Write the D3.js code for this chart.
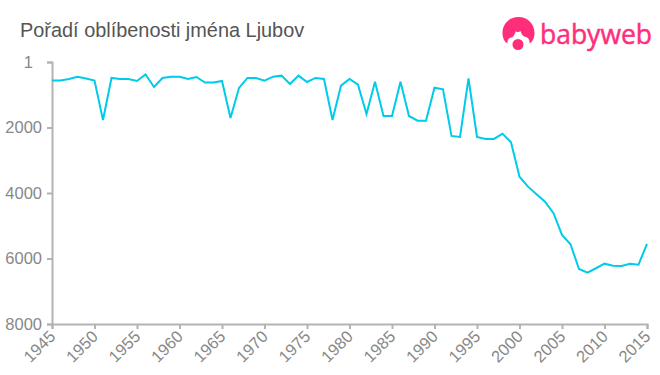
<!DOCTYPE html>
<html>
<head>
<meta charset="utf-8">
<script src="https://cdn.jsdelivr.net/npm/d3@7"></script>
<style>
  html, body { margin: 0; padding: 0; background: #fff; }
  svg { display: block; }
  text { font-family: "Liberation Sans", Arial, sans-serif; }
</style>
</head>
<body>
<div id="chart"></div>
<script>
const chartTitle = 'Pořadí oblíbenosti jména Ljubov';
const startYear = [1945];
const ranks = [
  565, 565, 519, 449, 504, 565, 1771, 488, 519, 519,
  580, 382, 763, 488, 449, 449, 519, 458, 626, 626,
  580, 1710, 794, 488, 488, 571, 449, 418, 672, 418,
  611, 488, 519, 1771, 724, 519, 693, 1588, 601, 1649,
  1649, 601, 1649, 1792, 1792, 785, 833, 2259, 2290, 498,
  2290, 2351, 2351, 2189, 2452, 3502, 3807, 4039, 4265, 4619,
  5282, 5566, 6320, 6433, 6298, 6158, 6219, 6228, 6158, 6188,
  5557
];
const years = ranks.map((r, i) => startYear[0] + i);
const yTicks = [1, 2000, 4000, 6000, 8000];
const xTicks = [1945, 1950, 1955, 1960, 1965, 1970, 1975, 1980, 1985, 1990, 1995, 2000, 2005, 2010, 2015];

const width = 660;
const height = 375;
const margin = { top: 62, right: 13, bottom: 51, left: 52 };

const svg = d3.select('#chart').append('svg')
  .attr('width', width)
  .attr('height', height);

const x = d3.scaleLinear()
  .domain([1945, 2015])
  .range([margin.left, width - margin.right]);

const y = d3.scaleLinear()
  .domain([1, 8000])
  .range([margin.top, height - margin.bottom]);

svg.append('text')
  .attr('x', 20)
  .attr('y', 37)
  .attr('font-size', 19.9)
  .attr('fill', '#555')
  .text(chartTitle);

// axes
const yAxis = svg.append('g')
  .attr('transform', 'translate(' + margin.left + ',0)')
  .call(d3.axisLeft(y).tickValues(yTicks).tickSize(5).tickPadding(5).tickFormat(d3.format('d')));

const xAxis = svg.append('g')
  .attr('transform', 'translate(0,' + (height - margin.bottom) + ')')
  .call(d3.axisBottom(x).tickValues(xTicks).tickSize(5).tickFormat(d3.format('d')));

[yAxis, xAxis].forEach(function (axis) {
  axis.selectAll('.domain, .tick line')
    .attr('stroke', '#b3b3b3')
    .attr('stroke-width', 2);
  axis.selectAll('text')
    .attr('fill', '#888')
    .attr('font-size', 16.5)
    .attr('font-family', '"Liberation Sans", Arial, sans-serif');
});

// the "1" sits further left than the other labels
yAxis.selectAll('.tick text')
  .filter(function (d) { return d === 1; })
  .attr('dx', -9);

xAxis.selectAll('text')
  .attr('text-anchor', 'end')
  .attr('x', 0)
  .attr('y', 0)
  .attr('dy', 0)
  .attr('transform', 'translate(4,13.5) rotate(-45)');

// series
const line = d3.line()
  .x(function (d, i) { return x(years[i]); })
  .y(function (d) { return y(d); });

svg.append('path')
  .datum(ranks)
  .attr('fill', 'none')
  .attr('stroke', '#00cbea')
  .attr('stroke-width', 2)
  .attr('d', line);

// logo
const logo = svg.append('g').attr('fill', '#ff2d7a');
logo.append('path')
  .attr('d', 'M518.5 17 C509 17 502.5 24 502.5 33 C502.5 38 504.5 42 507.5 43.5 C507 40 509 37 512 37.5 C514 36 515 33 516 31 C517 33 519 32 520.5 31 C521.5 34 523 36.5 525.5 37 C528 37 530 40 529.5 43.5 C532.5 42 534.5 38 534.5 33 C534.5 24 528 17 518.5 17 Z');
logo.append('circle').attr('cx', 518).attr('cy', 44.5).attr('r', 5.5);
logo.append('text')
  .attr('x', 540)
  .attr('y', 43.5)
  .attr('font-size', 28)
  .attr('stroke', '#ff2d7a')
  .attr('stroke-width', 0.5)
  .attr('style', 'font-family: "Open Sans", sans-serif')
  .attr('textLength', 112)
  .attr('lengthAdjust', 'spacingAndGlyphs')
  .text('babyweb');
</script>
</body>
</html>
